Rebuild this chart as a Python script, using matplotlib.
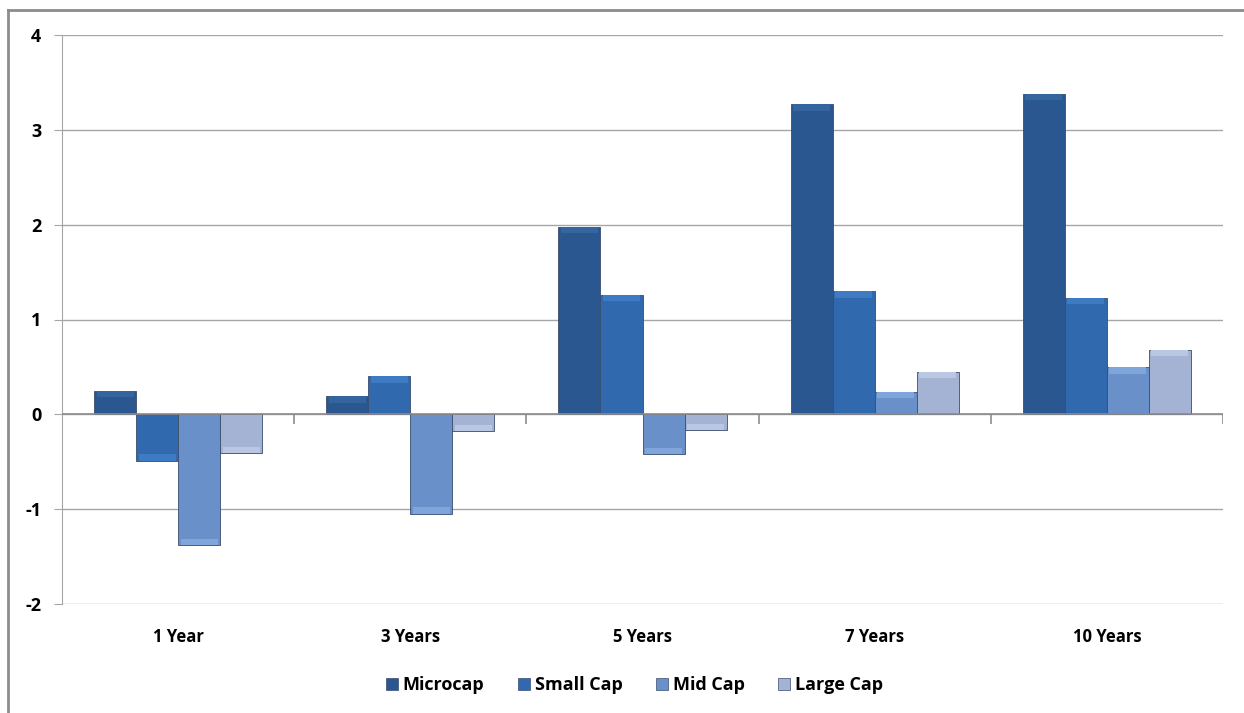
import numpy as np
import matplotlib
matplotlib.use("Agg")
import matplotlib.pyplot as plt
from matplotlib.lines import Line2D

categories = ["1 Year", "3 Years", "5 Years", "7 Years", "10 Years"]
series = ["Microcap", "Small Cap", "Mid Cap", "Large Cap"]
microcap = [0.25, 0.19, 1.98, 3.27, 3.38]
small_cap = [-0.49, 0.40, 1.26, 1.30, 1.23]
mid_cap = [-1.38, -1.05, -0.42, 0.24, 0.50]
large_cap = [-0.41, -0.18, -0.17, 0.45, 0.68]
values = [microcap, small_cap, mid_cap, large_cap]

colors = ["#2B5790", "#3069AE", "#6A90CA", "#A4B3D3"]
tips = ["#35659F", "#3F7BC2", "#80A5DB", "#BAC7E3"]

plt.rcParams["font.family"] = ["Open Sans", "DejaVu Sans"]
plt.rcParams["axes.unicode_minus"] = False

fig = plt.figure(figsize=(12.44, 7.13), dpi=100)
ax = fig.add_axes([62/1244, 1-604/713, (1223-62)/1244, (604-35)/713])

x = np.arange(len(categories))
w = 0.181
for i, (name, vals) in enumerate(zip(series, values)):
    pos = x + (i - 1.5) * w
    vals = np.array(vals)
    ax.bar(pos, vals, width=w, color=colors[i], edgecolor="#3A4C6E",
           linewidth=0.6, zorder=3)
    # bevelled tip of each bar
    tip = np.sign(vals) * np.minimum(np.abs(vals), 0.07)
    ax.bar(pos, tip, width=w * 0.88, bottom=vals - tip, color=tips[i],
           linewidth=0, zorder=4)

ax.set_xlim(-0.5, len(categories) - 0.5)
ax.set_ylim(-2, 4)
ax.set_yticks(range(-2, 5))
ax.yaxis.grid(True, color="#A6A6A6", linewidth=1, zorder=0)
ax.axhline(0, color="#8C8C8C", linewidth=1.2, zorder=5)
bounds = np.arange(len(categories) + 1) - 0.5
ax.vlines(bounds[1:], -0.1, 0, color="#8C8C8C", linewidth=1.2, zorder=5)

ax.set_xticks(x)
ax.set_xticklabels(categories, fontsize=12, fontweight="bold")
ax.tick_params(axis="x", length=0, pad=17)
ax.tick_params(axis="y", length=6, color="#A6A6A6", labelsize=13, pad=9)
for lab in ax.get_yticklabels():
    lab.set_fontweight("bold")

for s in ["top", "right", "bottom"]:
    ax.spines[s].set_visible(False)
ax.spines["left"].set_color("#A6A6A6")

handles = [Line2D([], [], marker="s", linestyle="", markersize=9,
                  markerfacecolor=c, markeredgecolor="#3A4C6E", markeredgewidth=0.5)
           for c in colors]
fig.legend(handles, series, loc="center", bbox_to_anchor=(632/1244, 1-685/713),
           ncol=4, frameon=False, handletextpad=0.0, columnspacing=1.6,
           handlelength=1.2, prop={"size": 13, "weight": "bold"})

# outer chart border
fig.add_artist(Line2D([8/1244, 8/1244], [0, 1-10/713], transform=fig.transFigure,
                      color="#8C8C8C", linewidth=2))
fig.add_artist(Line2D([8/1244, 1], [1-10/713, 1-10/713], transform=fig.transFigure,
                      color="#8C8C8C", linewidth=2))

fig.savefig("out.png", dpi=100)
